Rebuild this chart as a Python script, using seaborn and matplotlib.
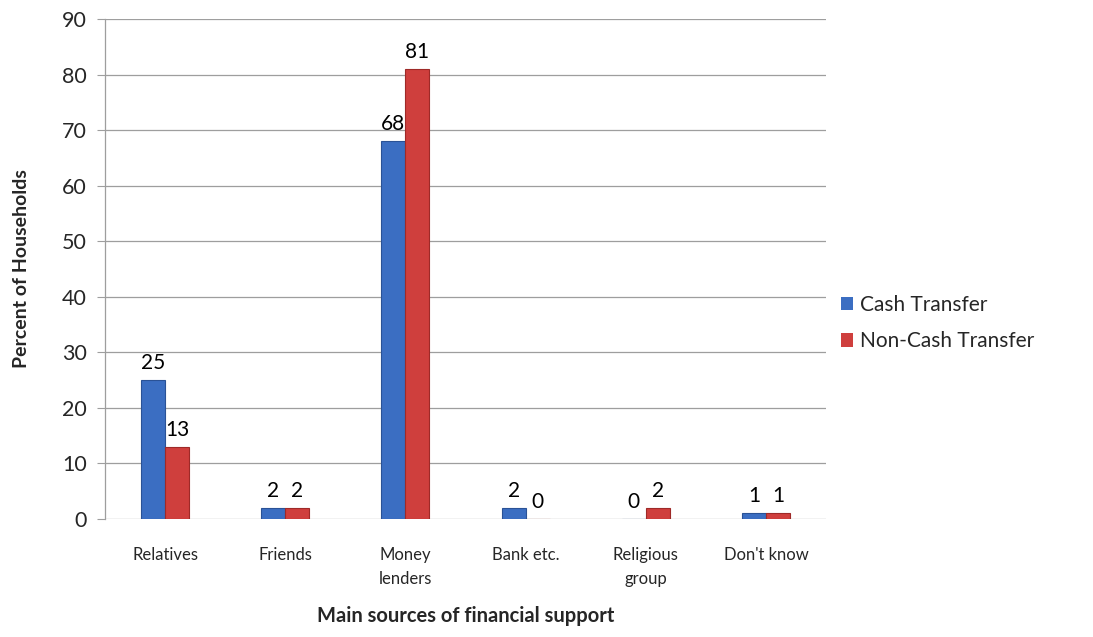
import matplotlib
matplotlib.use("Agg")
import matplotlib.pyplot as plt
import seaborn as sns
import pandas as pd

categories = ["Relatives", "Friends", "Money\nlenders", "Bank etc.", "Religious\ngroup", "Don't know"]
cash = [25, 2, 68, 2, 0, 1]
noncash = [13, 2, 81, 0, 2, 1]
series_names = ["Cash Transfer", "Non-Cash Transfer"]
yticks = [0, 10, 20, 30, 40, 50, 60, 70, 80, 90]

df = pd.DataFrame({
    "cat": categories * 2,
    "val": cash + noncash,
    "series": [series_names[0]] * len(categories) + [series_names[1]] * len(categories),
})

sns.set_style("white")
plt.rcParams['font.family'] = ['Lato', 'DejaVu Sans']

fig = plt.figure(figsize=(10.93, 6.37), dpi=100)
ax = fig.add_axes([105/1093, 1 - 519/637, (826-105)/1093, (519-19)/637])

palette = {series_names[0]: "#3B6EC2", series_names[1]: "#CF3F3D"}
sns.barplot(data=df, x="cat", y="val", hue="series", order=categories,
            hue_order=series_names, palette=palette, width=0.4, ax=ax,
            saturation=1, edgecolor="none", zorder=3)

edge = {series_names[0]: "#2A5296", series_names[1]: "#9E2A28"}
for cont, name in zip(ax.containers, series_names):
    for p in cont.patches:
        p.set_edgecolor(edge[name])
        p.set_linewidth(0.8)
    ax.bar_label(cont, labels=[f"{v:g}" for v in cont.datavalues], padding=5,
                 fontsize=15, color="black")

ax.set_ylim(0, 90)
ax.set_yticks(yticks)
ax.set_xlim(-0.5, len(categories) - 0.5)
ax.yaxis.grid(True, color="#9E9E9E", linewidth=0.9, zorder=0)
ax.set_axisbelow(True)
for s in ["top", "right", "bottom"]:
    ax.spines[s].set_visible(False)
ax.spines["left"].set_color("#9E9E9E")
ax.spines["left"].set_linewidth(0.9)
ax.tick_params(axis="y", length=6, color="#9E9E9E", labelsize=15.5, pad=7, direction="out", left=True)
ax.tick_params(axis="x", length=0, labelsize=12, pad=20)
for t in ax.get_xticklabels():
    t.set_linespacing(1.6)

ax.set_ylabel("Percent of Households", fontsize=14, fontweight="bold", labelpad=23)
ax.set_xlabel("Main sources of financial support", fontsize=14.5, fontweight="bold", labelpad=14)

handles, labels = ax.get_legend_handles_labels()
ax.legend(handles, labels, loc="center left", bbox_to_anchor=(822/1093, 1 - 323/637),
          bbox_transform=fig.transFigure, frameon=False, fontsize=15,
          handlelength=0.6, handleheight=0.6, handletextpad=0.3, labelspacing=0.8)

fig.savefig("out.png", dpi=100)
